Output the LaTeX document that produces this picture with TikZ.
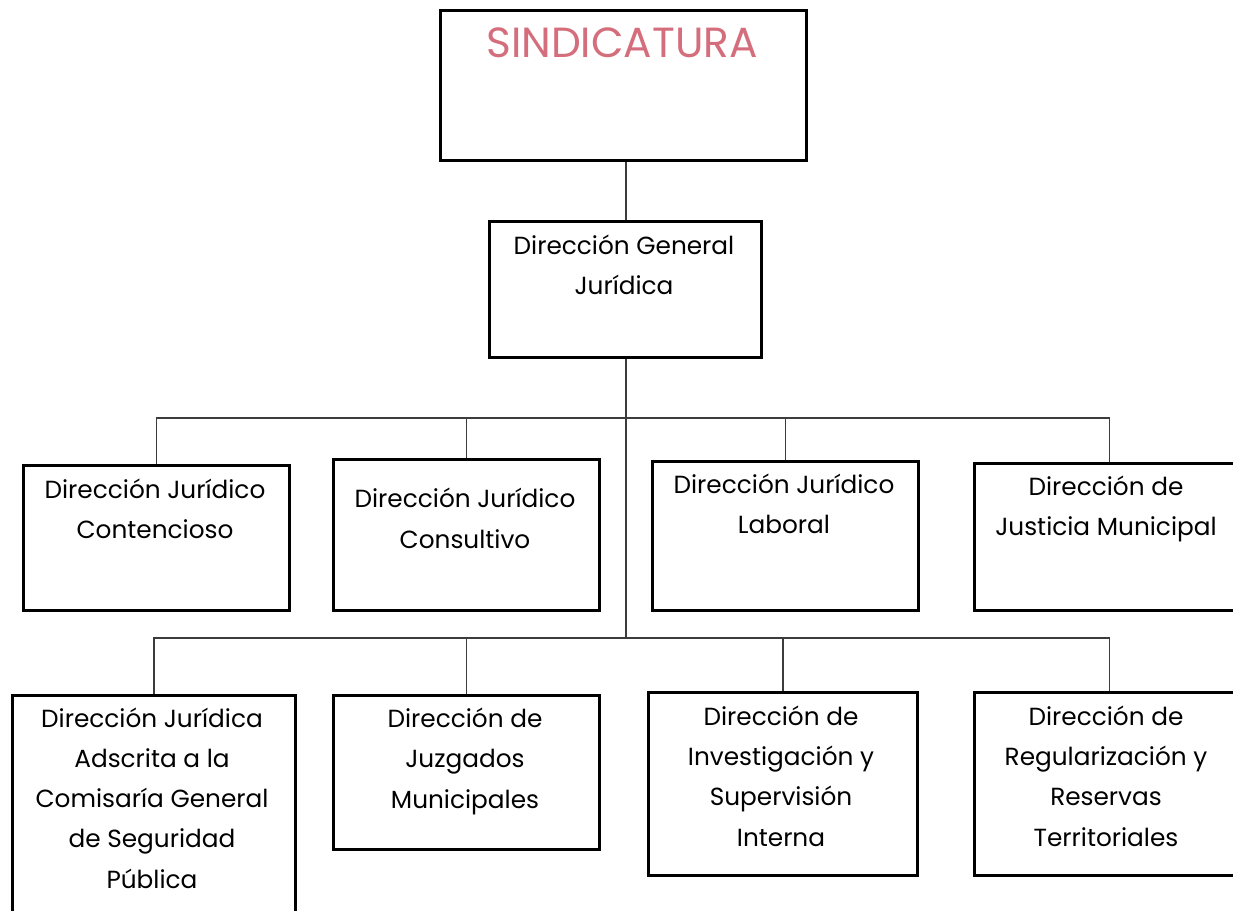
\documentclass[tikz,border=0pt]{standalone}
\usepackage{fontspec}
\setmainfont{Poppins}
\usetikzlibrary{positioning}
\definecolor{sindrosa}{RGB}{212,110,124}
\definecolor{linea}{RGB}{60,60,60}

\begin{document}
\begin{tikzpicture}[x=0.02cm,y=-0.02cm,
    caja/.style 2 args={draw,line width=1.6pt,anchor=north west,inner sep=0pt,
      minimum width=#1*0.02cm,minimum height=#2*0.02cm},
    txt/.style={anchor=base,align=center,inner sep=0pt,
      font=\fontsize{14.1}{22.8}\selectfont},
    rama/.style={draw=linea,line width=0.7pt}]

  \clip (0,0) rectangle (1233,911);

  \node[caja={366}{150}] (sind) at (439,9) {};
  \node[caja={272}{136}] (jur) at (488,220) {};

  \node[caja={266}{145}] (cont) at (22,464) {};
  \node[caja={266}{151}] (cons) at (332,458) {};
  \node[caja={266}{149}] (lab) at (651,460) {};
  \node[caja={270}{147}] (just) at (973,462) {};

  \node[caja={283}{240}] (adsc) at (11,694) {};
  \node[caja={266}{154}] (juzg) at (332,694) {};
  \node[caja={269}{183}] (inv) at (647,691) {};
  \node[caja={270}{183}] (reg) at (973,691) {};

  % base = baseline of the last line
  \node[txt,text=sindrosa,font=\fontsize{24}{28}\selectfont] (sind-t) at (622,58) {SINDICATURA};
  \node[txt] (jur-t) at (624,295) {Dirección General\\Jurídica};
  \node[txt] (cont-t) at (155,539) {Dirección Jurídico\\Contencioso};
  \node[txt] (cons-t) at (465,548) {Dirección Jurídico\\Consultivo};
  \node[txt] (lab-t) at (784,534) {Dirección Jurídico\\Laboral};
  \node[txt] (just-t) at (1106,536) {Dirección de\\Justicia Municipal};
  \node[txt] (adsc-t) at (152,888) {Dirección Jurídica\\Adscrita a la\\Comisaría General\\de Seguridad\\Pública};
  \node[txt] (juzg-t) at (465,808) {Dirección de\\Juzgados\\Municipales};
  \node[txt] (inv-t) at (781,846) {Dirección de\\Investigación y\\Supervisión\\Interna};
  \node[txt] (reg-t) at (1106,846) {Dirección de\\Regularización y\\Reservas\\Territoriales};

  \coordinate (bus1) at (626,418);
  \coordinate (bus2) at (626,638);

  \draw[rama] (sind.south -| bus1) -- (jur.north -| bus1);
  \draw[rama] (jur.south -| bus1) -- (bus2);

  \draw[rama] (cont.north) |- (bus1) -| (just.north);
  \draw[rama] (cons.north) -- (cons.north |- bus1);
  \draw[rama] (lab.north) -- (lab.north |- bus1);

  \draw[rama] (adsc.north) |- (bus2) -| (reg.north);
  \draw[rama] (juzg.north) -- (juzg.north |- bus2);
  \draw[rama] (inv.north) -- (inv.north |- bus2);

\end{tikzpicture}
\end{document}
